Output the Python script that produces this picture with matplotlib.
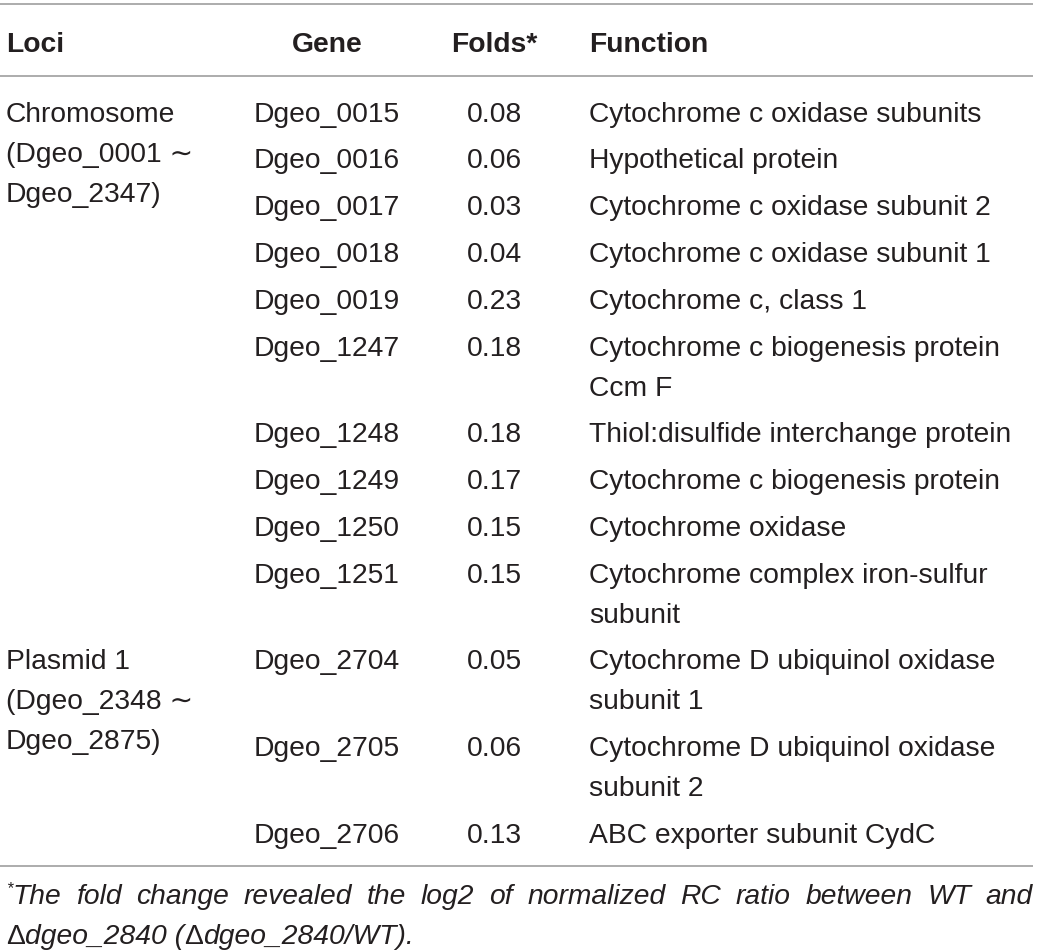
# -*- coding: utf-8 -*-
# Table of down-regulated cytochrome genes, drawn with plain matplotlib text

import matplotlib.pyplot as plt

# table content
headers = ["Loci", "Gene", "Folds*", "Function"]
loci_labels = ["Chromosome\n(Dgeo_0001 \u223c\nDgeo_2347)",
               "Plasmid 1\n(Dgeo_2348 \u223c\nDgeo_2875)"]
loci_first_row = [0, 10]
genes = ["Dgeo_0015", "Dgeo_0016", "Dgeo_0017", "Dgeo_0018", "Dgeo_0019",
         "Dgeo_1247", "Dgeo_1248", "Dgeo_1249", "Dgeo_1250", "Dgeo_1251",
         "Dgeo_2704", "Dgeo_2705", "Dgeo_2706"]
folds = [0.08, 0.06, 0.03, 0.04, 0.23, 0.18, 0.18, 0.17, 0.15, 0.15,
         0.05, 0.06, 0.13]
functions = ["Cytochrome c oxidase subunits",
             "Hypothetical protein",
             "Cytochrome c oxidase subunit 2",
             "Cytochrome c oxidase subunit 1",
             "Cytochrome c, class 1",
             "Cytochrome c biogenesis protein\nCcm F",
             "Thiol:disulfide interchange protein",
             "Cytochrome c biogenesis protein",
             "Cytochrome oxidase",
             "Cytochrome complex iron-sulfur\nsubunit",
             "Cytochrome D ubiquinol oxidase\nsubunit 1",
             "Cytochrome D ubiquinol oxidase\nsubunit 2",
             "ABC exporter subunit CydC"]
footnote_1 = "The fold change revealed the log2 of normalized RC ratio between WT and"
# second footnote line as (text, italic?) pieces, the deltas stay upright
footnote_2 = [("\u0394", False), ("dgeo_2840 (", True),
              ("\u0394", False), ("dgeo_2840/WT).", True)]

# look and layout (pixels, figure is 1040 x 953)
TXT = "#231f20"
RULE = "#a6a6a6"
FONT = ["Liberation Sans", "DejaVu Sans"]
SIZE = 20.3
X_LOCI, X_GENE, X_FOLD, X_FUNC, X_RIGHT = 6, 327, 494, 589, 1033
ROW_PITCH, LINE_H, BASE = 46.8, 40, 9.5

fig = plt.figure(figsize=(10.4, 9.53), dpi=100)
ax = fig.add_axes([0, 0, 1, 1])
ax.set_xlim(0, 1040)
ax.set_ylim(953, 0)
ax.axis('off')


def put_lines(x, y, text, ha='left', **kw):
    # one text object per line so the line spacing is fixed
    for i, line in enumerate(text.split("\n")):
        ax.text(x, y + i * LINE_H + BASE, line, ha=ha, va='baseline',
                color=TXT, fontsize=SIZE, family=FONT, **kw)


# rules
for yy in [5, 77, 867]:
    ax.plot([0, X_RIGHT], [yy, yy], color=RULE, lw=1.3, solid_capstyle='butt')

# header
head_x = [X_LOCI, X_GENE, X_FOLD, X_FUNC]
head_ha = ['left', 'center', 'center', 'left']
for h, x, ha in zip(headers, head_x, head_ha):
    ax.text(x, 52, h, ha=ha, va='baseline', color=TXT, fontsize=SIZE,
            family=FONT, fontweight='bold')

# body rows
row_y = []
y = 112
for g, f, fn in zip(genes, folds, functions):
    row_y.append(y)
    put_lines(X_GENE, y, g, ha='center')
    put_lines(X_FOLD, y, f"{f:.2f}", ha='center')
    put_lines(X_FUNC, y, fn)
    y += ROW_PITCH + (fn.count("\n")) * LINE_H

for lab, r in zip(loci_labels, loci_first_row):
    put_lines(X_LOCI, row_y[r], lab)

# footnote, first line justified to the table width
fig.canvas.draw()
renderer = fig.canvas.get_renderer()
foot_kw = dict(va='baseline', color=TXT, fontsize=SIZE, family=FONT)
star = ax.text(X_LOCI, 893, "*", fontsize=12, va='baseline', color=TXT,
               family=FONT, style='italic')
x0 = X_LOCI + star.get_window_extent(renderer).width
words = [ax.text(0, 904, w, style='italic', **foot_kw)
         for w in footnote_1.split()]
widths = [t.get_window_extent(renderer).width for t in words]
gap = (X_RIGHT - x0 - sum(widths)) / (len(words) - 1)
x = x0
for t, w in zip(words, widths):
    t.set_x(x)
    x += w + gap

x = X_LOCI
for piece, italic in footnote_2:
    t = ax.text(x, 944, piece, style='italic' if italic else 'normal',
                **foot_kw)
    x += t.get_window_extent(renderer).width

fig.savefig("out.png", dpi=100)
